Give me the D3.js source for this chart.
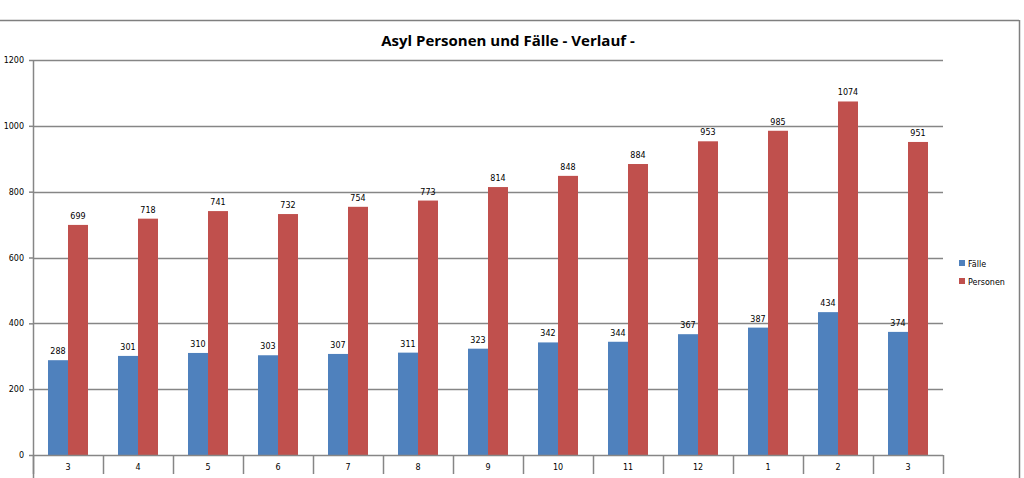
<!DOCTYPE html>
<html>
<head>
<meta charset="utf-8">
<script src="https://cdn.jsdelivr.net/npm/d3@7"></script>
<style>
  body { margin: 0; background: #fff; }
  svg { display: block; }
</style>
</head>
<body>
<script>
var months = ["3", "4", "5", "6", "7", "8", "9", "10", "11", "12", "1", "2", "3"];
var faelle = [288, 301, 310, 303, 307, 311, 323, 342, 344, 367, 387, 434, 374];
var personen = [699, 718, 741, 732, 754, 773, 814, 848, 884, 953, 985, 1074, 951];
var yTicks = [0, 200, 400, 600, 800, 1000, 1200];

var width = 1024, height = 478;
var margin = {left: 33, right: 81, top: 60, bottom: 23};
var blue = "#4f81bd", red = "#c0504d", grid = "#868686";

var svg = d3.select("body").append("svg")
    .attr("width", width)
    .attr("height", height);

// outer chart frame
svg.append("line").attr("x1", 0).attr("x2", 1019).attr("y1", 20.5).attr("y2", 20.5)
    .style("stroke", "#7f7f7f").style("stroke-width", 1.5);
svg.append("line").attr("x1", 1019.5).attr("x2", 1019.5).attr("y1", 20).attr("y2", height)
    .style("stroke", "#7f7f7f").style("stroke-width", 1.5);

svg.append("text")
    .attr("x", 508).attr("y", 46)
    .attr("text-anchor", "middle")
    .style("font-family", "'Open Sans', sans-serif")
    .style("font-weight", "bold")
    .style("font-size", "15px")
    .text("Asyl Personen und Fälle - Verlauf -");

var x = d3.scaleBand()
    .domain(d3.range(months.length))
    .range([margin.left, width - margin.right]);

var x1 = d3.scaleBand()
    .domain(["f", "p"])
    .range([0, x.bandwidth()])
    .paddingOuter(0.75)
    .paddingInner(0);

var y = d3.scaleLinear()
    .domain([0, 1200])
    .range([height - margin.bottom, margin.top]);

// gridlines
svg.append("g")
    .selectAll("line")
    .data(yTicks.slice(1))
    .enter().append("line")
    .attr("x1", margin.left).attr("x2", width - margin.right)
    .attr("y1", function(d) { return Math.round(y(d)) + 0.5; })
    .attr("y2", function(d) { return Math.round(y(d)) + 0.5; })
    .style("stroke", grid).style("stroke-width", 1.5);

// y axis
var yAxis = svg.append("g")
    .attr("transform", "translate(" + margin.left + ",0)")
    .call(d3.axisLeft(y).tickValues(yTicks).tickFormat(d3.format("d")).tickSize(4).tickPadding(5));
yAxis.select(".domain").attr("d", "M0.5," + margin.top + "V" + height)
    .style("stroke", grid).style("stroke-width", 1.5);
yAxis.selectAll(".tick line").style("stroke", grid).style("stroke-width", 1.5);
yAxis.selectAll("text")
    .style("font-family", "'DejaVu Sans', sans-serif")
    .style("font-size", "8px")
    .style("fill", "#000");

// bars
var groups = svg.append("g").selectAll("g")
    .data(months)
    .enter().append("g")
    .attr("transform", function(d, i) { return "translate(" + x(i) + ",0)"; });

function bars(key, values, color) {
    groups.append("rect")
        .attr("x", x1(key))
        .attr("width", x1.bandwidth())
        .attr("y", function(d, i) { return y(values[i]); })
        .attr("height", function(d, i) { return y(0) - y(values[i]); })
        .style("fill", color);
    groups.append("text")
        .attr("x", x1(key) + x1.bandwidth() / 2)
        .attr("y", function(d, i) { return y(values[i]) - 6; })
        .attr("text-anchor", "middle")
        .style("font-family", "'DejaVu Sans', sans-serif")
        .style("font-size", "8px")
        .text(function(d, i) { return values[i]; });
}
bars("f", faelle, blue);
bars("p", personen, red);

// category axis
var xAxis = svg.append("g")
    .attr("transform", "translate(0," + y(0) + ")");
xAxis.append("line")
    .attr("x1", margin.left).attr("x2", width - margin.right)
    .attr("y1", 0.5).attr("y2", 0.5)
    .style("stroke", grid).style("stroke-width", 1.5);
xAxis.selectAll(".sep")
    .data(d3.range(months.length + 1))
    .enter().append("line")
    .attr("class", "sep")
    .attr("x1", function(i) { return Math.round(margin.left + i * x.step()) + 0.5; })
    .attr("x2", function(i) { return Math.round(margin.left + i * x.step()) + 0.5; })
    .attr("y1", 0).attr("y2", 19)
    .style("stroke", grid).style("stroke-width", 1.5);
xAxis.selectAll(".lab")
    .data(months)
    .enter().append("text")
    .attr("x", function(d, i) { return x(i) + x.bandwidth() / 2; })
    .attr("y", 15)
    .attr("text-anchor", "middle")
    .style("font-family", "'DejaVu Sans', sans-serif")
    .style("font-size", "8px")
    .text(function(d) { return d; });

// legend
var legend = svg.append("g").attr("transform", "translate(959,260)");
[["Fälle", blue], ["Personen", red]].forEach(function(l, i) {
    legend.append("rect").attr("x", 0).attr("y", i * 18)
        .attr("width", 6).attr("height", 6).style("fill", l[1]);
    legend.append("text").attr("x", 9).attr("y", i * 18 + 6.5)
        .style("font-family", "'DejaVu Sans', sans-serif")
        .style("font-size", "8px")
        .text(l[0]);
});
</script>
</body>
</html>
